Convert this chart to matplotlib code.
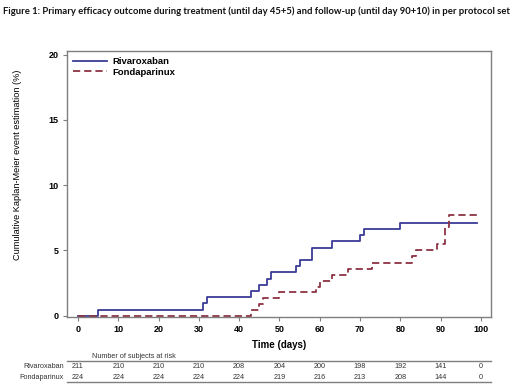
import matplotlib
matplotlib.use("Agg")
import matplotlib.pyplot as plt
import matplotlib.transforms as mtransforms

# Kaplan-Meier step data (day, cumulative %)
riva_days = [0, 5, 31, 32, 43, 45, 47, 48, 54, 55, 58, 63, 70, 71, 80, 99]
riva_pct = [0, 0.47, 0.95, 1.42, 1.90, 2.37, 2.84, 3.32, 3.79, 4.27, 5.21, 5.69, 6.16, 6.62, 7.12, 7.12]

fonda_days = [0, 43, 45, 46, 50, 59, 60, 63, 67, 73, 83, 84, 89, 91, 92, 99]
fonda_pct = [0, 0.45, 0.89, 1.34, 1.79, 2.23, 2.68, 3.13, 3.59, 4.05, 4.54, 5.00, 5.50, 6.80, 7.75, 7.75]

risk_times = [0, 10, 20, 30, 40, 50, 60, 70, 80, 90, 100]
riva_risk = [211, 210, 210, 210, 208, 204, 200, 198, 192, 141, 0]
fonda_risk = [224, 224, 224, 224, 224, 219, 216, 213, 208, 144, 0]

blue = "#3a3c96"
red = "#8c3343"
gray = "#7f7f7f"

fig = plt.figure(figsize=(5.2, 3.86), dpi=100)
fig.patch.set_facecolor("white")

fig.text(0.006, 0.972, "Figure 1: Primary efficacy outcome during treatment (until day 45+5) and "
         "follow-up (until day 90+10) in per protocol set",
         fontsize=6.85, fontweight="bold", family="Lato", va="center", ha="left", color="#111111")

ax = fig.add_axes([0.1283, 0.1788, 0.8159, 0.6891])
ax.step(riva_days, riva_pct, where="post", color=blue, lw=1.3, label="Rivaroxaban")
ax.step(fonda_days, fonda_pct, where="post", color=red, lw=1.3, ls=(0, (4, 2.2)),
        label="Fondaparinux")

ax.set_xlim(-2.8, 102.5)
ax.set_ylim(-0.1, 20.28)
ax.set_xticks(risk_times)
ax.set_yticks([0, 5, 10, 15, 20])
ax.tick_params(direction="out", length=3, width=0.8, color=gray, labelsize=6.5, pad=3)
for lab in ax.get_xticklabels() + ax.get_yticklabels():
    lab.set_fontweight("bold")
    lab.set_family("Liberation Sans")
for sp in ax.spines.values():
    sp.set_color(gray)
    sp.set_linewidth(1.0)

ax.set_xlabel("Time (days)", fontsize=7, fontweight="bold", family="Liberation Sans", labelpad=4)
ax.set_ylabel("Cumulative Kaplan-Meier event estimation (%)", fontsize=6.6,
              family="Liberation Sans", labelpad=14)
ax.yaxis.set_label_coords(-0.105, 0.571)

leg = ax.legend(loc="upper left", frameon=False, handlelength=3.6, handletextpad=0.6,
                borderaxespad=0.25, labelspacing=0.15,
                prop={"family": "Liberation Sans", "weight": "bold", "size": 6.8})

# number at risk table below the axes
trans = mtransforms.blended_transform_factory(ax.transData, fig.transFigure)
fig.text(92 / 520, 1 - 356 / 386, "Number of subjects at risk", fontsize=5.2,
         family="Liberation Sans", va="center", ha="left", color="#333333")
fig.add_artist(plt.Line2D([67 / 520, 491 / 520], [1 - 361 / 386] * 2, color=gray, lw=1.0))
fig.add_artist(plt.Line2D([67 / 520, 491 / 520], [1 - 382 / 386] * 2, color=gray, lw=1.0))
for name, row, ypix in [("Rivaroxaban", riva_risk, 366.7), ("Fondaparinux", fonda_risk, 377.3)]:
    y = 1 - ypix / 386
    fig.text(64 / 520, y, name, fontsize=5.2, family="Liberation Sans", ha="right",
             va="center", color="#333333")
    for t, n in zip(risk_times, row):
        ax.text(t, y, str(n), transform=trans, fontsize=5.2, family="Liberation Sans",
                ha="center", va="center", color="#333333", clip_on=False)

fig.savefig("out.png", dpi=100, facecolor="white")
